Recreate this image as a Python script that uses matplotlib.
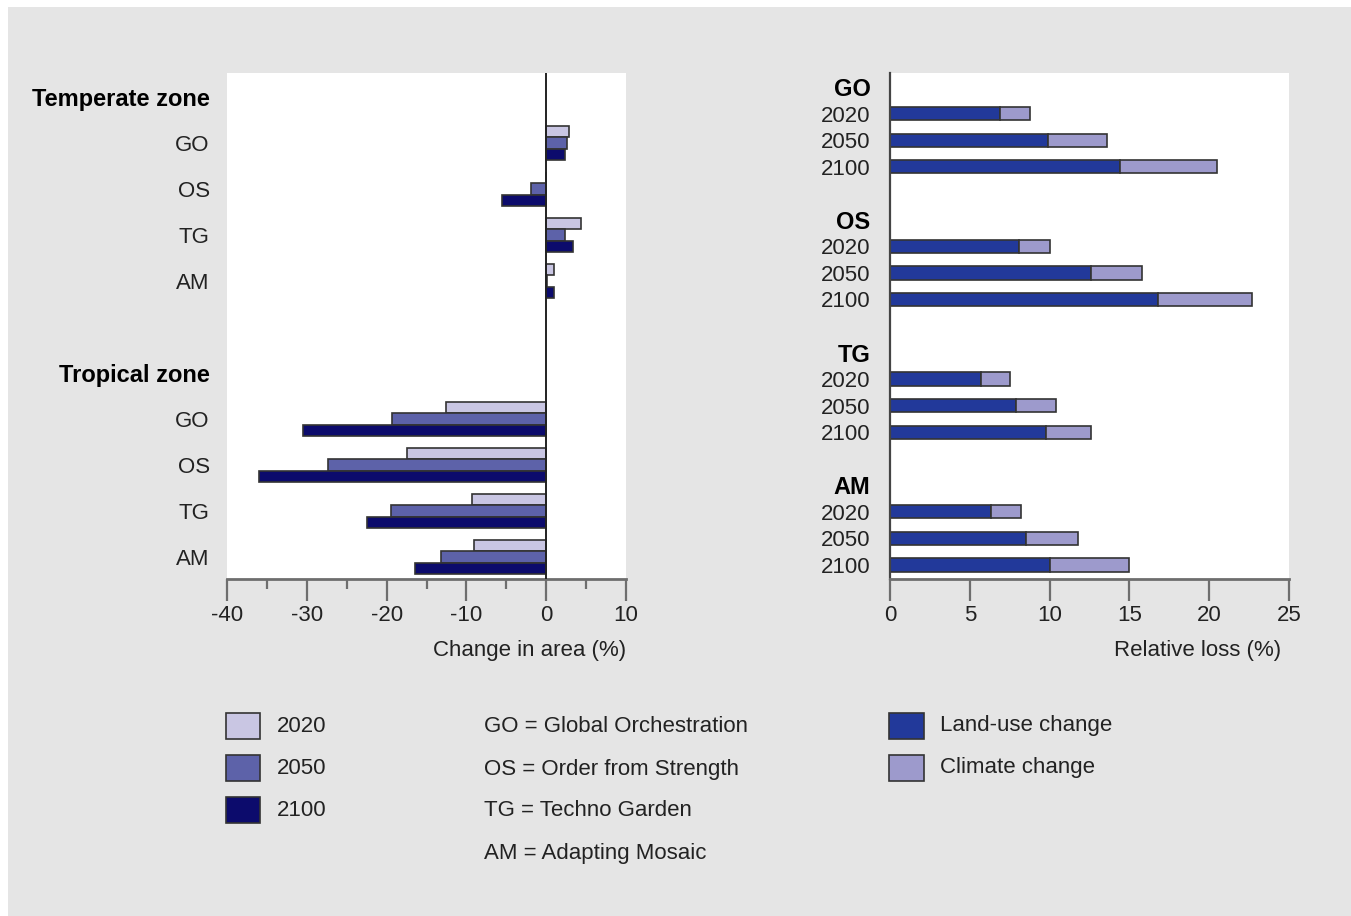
import matplotlib.pyplot as plt
import matplotlib.patches as mpatches
import matplotlib.ticker as mticker
import numpy as np

plt.rcParams['font.family'] = ['Liberation Sans', 'DejaVu Sans']
plt.rcParams['axes.unicode_minus'] = False

# --- data ---
scenarios = ['GO', 'OS', 'TG', 'AM']
years = ['2020', '2050', '2100']

# change in area (%), left panel
temperate_2020 = [2.9, 0.0, 4.3, 1.0]
temperate_2050 = [2.6, -1.9, 2.3, 0.1]
temperate_2100 = [2.4, -5.6, 3.3, 1.0]
tropical_2020 = [-12.6, -17.5, -9.3, -9.1]
tropical_2050 = [-19.3, -27.3, -19.4, -13.2]
tropical_2100 = [-30.5, -36.0, -22.5, -16.5]

# relative loss (%), right panel, rows = 2020/2050/2100
land_use_GO = [6.9, 9.9, 14.4]
land_use_OS = [8.1, 12.6, 16.8]
land_use_TG = [5.7, 7.9, 9.8]
land_use_AM = [6.3, 8.5, 10.0]
climate_GO = [1.9, 3.7, 6.1]
climate_OS = [1.9, 3.2, 5.9]
climate_TG = [1.8, 2.5, 2.8]
climate_AM = [1.9, 3.3, 5.0]

definitions = ['GO = Global Orchestration', 'OS = Order from Strength',
               'TG = Techno Garden', 'AM = Adapting Mosaic']

year_colors = ['#c9c6e3', '#5d62a9', '#0c0b6c']
land_color = '#22399a'
climate_color = '#9d9acc'
edge = '#333333'
bg = '#e5e5e5'
axis_grey = '#6e6e6e'
txt = '#222222'
fs = 16

W, H = 1351, 916
fig = plt.figure(figsize=(W / 100, H / 100), dpi=100, facecolor='white')

# background + legend layer in pixel coordinates
bgax = fig.add_axes([0, 0, 1, 1], zorder=0)
bgax.set_xlim(0, W)
bgax.set_ylim(H, 0)
bgax.axis('off')
bgax.add_patch(mpatches.Rectangle((8, 7), W - 8, H - 7, facecolor=bg, edgecolor='none'))


def px_axes(x0, x1, y0, y1):
    return fig.add_axes([x0 / W, 1 - y1 / H, (x1 - x0) / W, (y1 - y0) / H], zorder=1)


# ---------------- left panel ----------------
ax1 = px_axes(227, 626, 73, 579)
centers_temp = np.arange(1, 5)
centers_trop = np.arange(7, 11)
bh = 0.25
temp_sets = [temperate_2020, temperate_2050, temperate_2100]
trop_sets = [tropical_2020, tropical_2050, tropical_2100]
for i in range(3):
    off = (i - 1) * bh
    ax1.barh(centers_temp + off, temp_sets[i], height=bh, color=year_colors[i],
             edgecolor=edge, linewidth=1.2, zorder=2)
    ax1.barh(centers_trop + off, trop_sets[i], height=bh, color=year_colors[i],
             edgecolor=edge, linewidth=1.2, zorder=2)
ax1.axvline(0, color='#222222', linewidth=1.4, zorder=3)
ax1.set_xlim(-40, 10)
ax1.set_ylim(10.48, -0.52)
ytick_pos = [0] + list(centers_temp) + [6] + list(centers_trop)
ytick_lab = ['Temperate zone'] + scenarios + ['Tropical zone'] + scenarios
ax1.set_yticks(ytick_pos)
ax1.set_yticklabels(ytick_lab, fontsize=fs, color=txt)
for lbl in ax1.get_yticklabels():
    if 'zone' in lbl.get_text():
        lbl.set_fontweight('bold')
        lbl.set_fontsize(17)
        lbl.set_color('black')
ax1.tick_params(axis='y', length=0, pad=12.5)
ax1.xaxis.set_major_locator(mticker.MultipleLocator(10))
ax1.xaxis.set_minor_locator(mticker.MultipleLocator(5))
ax1.tick_params(axis='x', which='major', length=16, width=1.6, color=axis_grey,
                labelsize=fs, pad=3, labelcolor=txt)
ax1.tick_params(axis='x', which='minor', length=7, width=1.6, color=axis_grey)
for s in ['top', 'right', 'left']:
    ax1.spines[s].set_visible(False)
ax1.spines['bottom'].set_color(axis_grey)
ax1.spines['bottom'].set_linewidth(2)
ax1.set_xlabel('Change in area (%)', fontsize=fs, color=txt, ha='right')
ax1.xaxis.set_label_coords(1.0, -0.12)

# ---------------- right panel ----------------
ax2 = px_axes(890, 1289, 73, 579)
land_sets = [land_use_GO, land_use_OS, land_use_TG, land_use_AM]
clim_sets = [climate_GO, climate_OS, climate_TG, climate_AM]
rt_pos, rt_lab = [], []
for g, name in enumerate(scenarios):
    base = g * 5
    rows = base + 1 + np.arange(3)
    ax2.barh(rows, land_sets[g], height=0.5, color=land_color, edgecolor=edge,
             linewidth=1.2, zorder=2)
    ax2.barh(rows, clim_sets[g], left=land_sets[g], height=0.5, color=climate_color,
             edgecolor=edge, linewidth=1.2, zorder=2)
    rt_pos += [base] + list(rows)
    rt_lab += [name] + years
ax2.set_xlim(0, 25)
ax2.set_ylim(18.53, -0.53)
ax2.set_yticks(rt_pos)
ax2.set_yticklabels(rt_lab, fontsize=fs, color=txt)
for lbl in ax2.get_yticklabels():
    if lbl.get_text() in scenarios:
        lbl.set_fontweight('bold')
        lbl.set_fontsize(17)
        lbl.set_color('black')
ax2.tick_params(axis='y', length=0, pad=14)
ax2.xaxis.set_major_locator(mticker.MultipleLocator(5))
ax2.tick_params(axis='x', length=16, width=1.6, color=axis_grey, labelsize=fs,
                pad=3, labelcolor=txt)
for s in ['top', 'right']:
    ax2.spines[s].set_visible(False)
ax2.spines['left'].set_color('#444444')
ax2.spines['left'].set_linewidth(1.6)
ax2.spines['bottom'].set_color(axis_grey)
ax2.spines['bottom'].set_linewidth(2)
ax2.set_xlabel('Relative loss (%)', fontsize=fs, color=txt, ha='right')
ax2.xaxis.set_label_coords(0.98, -0.12)

# ---------------- legends ----------------
for i, yr in enumerate(years):
    yc = 726 + i * 42
    bgax.add_patch(mpatches.Rectangle((226, yc - 13), 34, 26, facecolor=year_colors[i],
                                      edgecolor=edge, linewidth=1.2))
    bgax.text(277, yc, yr, fontsize=fs, va='center', ha='left', color=txt)

for i, d in enumerate(definitions):
    bgax.text(484, 727 + i * 42, d, fontsize=fs, va='center', ha='left', color=txt)

for i, (lab, col) in enumerate([('Land-use change', land_color), ('Climate change', climate_color)]):
    yc = 726 + i * 42
    bgax.add_patch(mpatches.Rectangle((889, yc - 13), 35, 26, facecolor=col,
                                      edgecolor=edge, linewidth=1.2))
    bgax.text(940, yc, lab, fontsize=fs, va='center', ha='left', color=txt)

fig.savefig('out.png', dpi=100, facecolor=fig.get_facecolor())
